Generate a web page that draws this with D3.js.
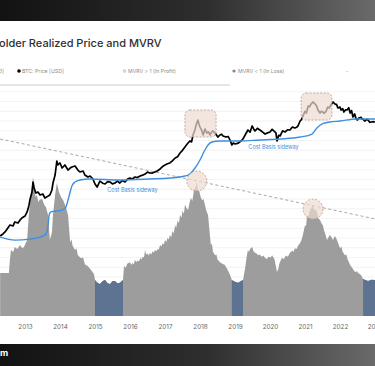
<!DOCTYPE html>
<html>
<head>
<meta charset="utf-8">
<script src="https://cdn.jsdelivr.net/npm/d3@7"></script>
<style>
  html, body { margin: 0; padding: 0; background: #fff; overflow: hidden; }
  svg { display: block; font-family: Inter, 'Liberation Sans', sans-serif; }
</style>
</head>
<body>
<div class="canvas"></div>
<script>
// x-axis years
const years = [2013, 2014, 2015, 2016, 2017, 2018, 2019, 2020, 2021, 2022, 2023]

// BTC price [USD], [decimal year, price]
const btcPrice = [
  [2012.29, 5.1], [2012.37, 5.9], [2012.43, 6.8], [2012.51, 9.0], [2012.57, 11.1], [2012.66, 10.4],
  [2012.71, 13.8], [2012.80, 12.8], [2012.86, 15.8], [2012.91, 18.3], [2013.0, 21], [2013.06, 28],
  [2013.11, 43], [2013.14, 65], [2013.20, 115], [2013.23, 234], [2013.26, 153], [2013.31, 107],
  [2013.37, 115], [2013.43, 93], [2013.51, 100], [2013.57, 75], [2013.66, 86], [2013.71, 93],
  [2013.77, 133], [2013.80, 218], [2013.86, 384], [2013.91, 1030], [2013.94, 780], [2014.0, 900],
  [2014.06, 630], [2014.14, 780], [2014.23, 547], [2014.29, 630], [2014.34, 680], [2014.43, 725],
  [2014.51, 547], [2014.57, 475], [2014.66, 510], [2014.71, 384], [2014.80, 333], [2014.86, 357],
  [2014.94, 290], [2015.0, 203], [2015.06, 164], [2015.14, 250], [2015.22, 215], [2015.29, 203],
  [2015.36, 240], [2015.43, 234], [2015.50, 205], [2015.57, 218], [2015.64, 250], [2015.71, 218],
  [2015.78, 260], [2015.86, 234], [2015.93, 290], [2016.0, 310], [2016.07, 290], [2016.14, 333],
  [2016.21, 320], [2016.29, 357], [2016.36, 380], [2016.43, 410], [2016.50, 470], [2016.57, 443],
  [2016.64, 440], [2016.71, 475], [2016.79, 520], [2016.86, 590], [2016.93, 700], [2017.0, 780],
  [2017.07, 850], [2017.14, 900], [2017.21, 1050], [2017.29, 1280], [2017.36, 1400], [2017.43, 1830],
  [2017.50, 2200], [2017.57, 2800], [2017.64, 3500], [2017.71, 4290], [2017.76, 4000], [2017.80, 6540],
  [2017.85, 9000], [2017.89, 13300], [2017.94, 18900], [2017.97, 14000], [2018.0, 11500], [2018.05, 9000],
  [2018.09, 6540], [2018.14, 10000], [2018.20, 7500], [2018.24, 8200], [2018.29, 6540], [2018.33, 8000],
  [2018.37, 8700], [2018.43, 7500], [2018.47, 6500], [2018.51, 5650], [2018.57, 6540], [2018.62, 6900],
  [2018.66, 6100], [2018.74, 5650], [2018.80, 5900], [2018.83, 5290], [2018.88, 4000], [2018.91, 3220],
  [2018.95, 3700], [2019.0, 3450], [2019.07, 3600], [2019.14, 3980], [2019.22, 4800], [2019.29, 6540],
  [2019.37, 9310], [2019.43, 8000], [2019.49, 12400], [2019.53, 10200], [2019.57, 8700], [2019.64, 10500],
  [2019.71, 9310], [2019.78, 8200], [2019.86, 7000], [2019.93, 7600], [2020.0, 8090], [2020.06, 9800],
  [2020.11, 8700], [2020.17, 7600], [2020.20, 4290], [2020.25, 6400], [2020.29, 6100], [2020.36, 8800],
  [2020.43, 8090], [2020.50, 9400], [2020.57, 9310], [2020.64, 11500], [2020.71, 10700], [2020.76, 11300],
  [2020.80, 12400], [2020.86, 17600], [2020.90, 19500], [2020.94, 25000], [2021.0, 35000], [2021.04, 31000],
  [2021.09, 50800], [2021.13, 48000], [2021.17, 58000], [2021.23, 67800], [2021.29, 58000], [2021.33, 52000],
  [2021.37, 38400], [2021.43, 31000], [2021.47, 35000], [2021.51, 33300], [2021.55, 30500], [2021.60, 35000],
  [2021.65, 47000], [2021.69, 44300], [2021.74, 54700], [2021.80, 67800], [2021.86, 58000], [2021.90, 57000],
  [2021.94, 44300], [2022.0, 47000], [2022.03, 38400], [2022.08, 42000], [2022.11, 33300], [2022.16, 39000],
  [2022.20, 38400], [2022.25, 45000], [2022.29, 31000], [2022.33, 37000], [2022.37, 23400], [2022.42, 29000],
  [2022.46, 20300], [2022.50, 19000], [2022.54, 21800], [2022.60, 23000], [2022.63, 20300], [2022.67, 19500],
  [2022.71, 17600], [2022.76, 19800], [2022.80, 18900], [2022.85, 16000], [2022.89, 16400], [2022.95, 16900],
  [2023.0, 16400]
]

// Holder realized price [USD]
const realizedPrice = [
  [2012.29, 4.7], [2012.71, 3.8], [2013.14, 4.1], [2013.43, 4.7], [2013.60, 5.9], [2013.66, 11.1],
  [2013.69, 22.6], [2013.74, 28], [2013.89, 30], [2014.06, 32], [2014.17, 40], [2014.23, 65],
  [2014.29, 115], [2014.34, 177], [2014.43, 234], [2014.57, 270], [2014.86, 290], [2015.71, 270],
  [2016.57, 290], [2017.14, 310], [2017.57, 357], [2017.71, 410], [2017.86, 630], [2018.0, 1110],
  [2018.14, 2260], [2018.23, 3220], [2018.34, 3980], [2018.57, 4290], [2019.14, 4290], [2019.71, 4590],
  [2020.29, 4930], [2020.86, 5650], [2021.20, 7000], [2021.34, 10700], [2021.49, 14300], [2021.71, 16400],
  [2022.0, 17600], [2022.46, 20300], [2023.0, 20300]
]

// MVRV ratio
const mvrv = [
  [2012.29, 1.10], [2012.54, 1.10], [2012.57, 1.45], [2012.60, 1.69], [2012.66, 1.64], [2012.71, 1.77],
  [2012.78, 1.72], [2012.86, 1.82], [2012.92, 1.74], [2012.97, 1.77], [2013.06, 1.95], [2013.11, 2.59],
  [2013.17, 3.10], [2013.23, 3.56], [2013.26, 3.36], [2013.30, 3.05], [2013.34, 3.10], [2013.38, 2.92],
  [2013.42, 2.98], [2013.49, 3.0], [2013.55, 2.85], [2013.60, 2.79], [2013.66, 2.59], [2013.71, 1.95],
  [2013.77, 2.15], [2013.80, 2.59], [2013.86, 3.10], [2013.91, 3.41], [2013.97, 3.18], [2014.03, 3.05],
  [2014.09, 2.97], [2014.17, 2.79], [2014.23, 2.59], [2014.29, 1.90], [2014.33, 1.96], [2014.36, 1.80],
  [2014.43, 1.69], [2014.47, 1.74], [2014.51, 1.56], [2014.60, 1.48], [2014.66, 1.50], [2014.71, 1.33],
  [2014.79, 1.28], [2014.86, 1.21], [2014.97, 1.08], [2015.0, 0.92], [2015.07, 0.85], [2015.14, 0.82],
  [2015.22, 0.90], [2015.29, 0.92], [2015.36, 0.84], [2015.43, 0.82], [2015.50, 0.90], [2015.57, 0.90],
  [2015.64, 0.84], [2015.71, 0.85], [2015.80, 0.92], [2015.83, 1.28], [2015.88, 1.24], [2015.92, 1.34],
  [2016.0, 1.38], [2016.04, 1.31], [2016.07, 1.36], [2016.11, 1.33], [2016.14, 1.44], [2016.18, 1.38],
  [2016.22, 1.42], [2016.26, 1.40], [2016.29, 1.49], [2016.33, 1.45], [2016.36, 1.52], [2016.40, 1.50],
  [2016.43, 1.69], [2016.46, 1.58], [2016.50, 1.60], [2016.54, 1.55], [2016.57, 1.62], [2016.61, 1.58],
  [2016.64, 1.66], [2016.68, 1.62], [2016.71, 1.69], [2016.75, 1.66], [2016.79, 1.72], [2016.82, 1.70],
  [2016.86, 1.82], [2016.90, 1.78], [2016.93, 1.86], [2016.97, 1.84], [2017.0, 1.95], [2017.04, 1.90],
  [2017.07, 2.0], [2017.11, 1.96], [2017.14, 2.08], [2017.18, 2.02], [2017.21, 2.18], [2017.25, 2.12],
  [2017.29, 2.33], [2017.32, 2.26], [2017.36, 2.45], [2017.40, 2.38], [2017.43, 2.59], [2017.47, 2.52],
  [2017.50, 2.70], [2017.54, 2.62], [2017.57, 2.85], [2017.62, 2.76], [2017.66, 2.72], [2017.70, 2.90],
  [2017.74, 3.03], [2017.78, 2.95], [2017.83, 3.23], [2017.88, 3.30], [2017.91, 3.44], [2017.94, 3.20],
  [2017.97, 3.23], [2018.02, 3.05], [2018.06, 2.97], [2018.10, 3.0], [2018.14, 2.85], [2018.18, 2.70],
  [2018.23, 2.59], [2018.27, 2.20], [2018.31, 1.82], [2018.34, 1.86], [2018.37, 1.65], [2018.43, 1.56],
  [2018.47, 1.58], [2018.50, 1.45], [2018.57, 1.38], [2018.64, 1.34], [2018.71, 1.31], [2018.78, 1.20],
  [2018.86, 1.05], [2018.91, 0.92], [2019.0, 0.88], [2019.09, 0.85], [2019.17, 0.90], [2019.23, 0.92],
  [2019.29, 1.23], [2019.33, 1.50], [2019.37, 1.69], [2019.40, 1.64], [2019.43, 1.72], [2019.49, 1.77],
  [2019.53, 1.66], [2019.57, 1.62], [2019.62, 1.60], [2019.66, 1.56], [2019.71, 1.58], [2019.76, 1.52],
  [2019.81, 1.55], [2019.86, 1.49], [2019.91, 1.46], [2019.96, 1.52], [2020.02, 1.50], [2020.06, 1.56],
  [2020.13, 1.45], [2020.20, 1.13], [2020.24, 1.22], [2020.27, 1.35], [2020.34, 1.49], [2020.40, 1.46],
  [2020.45, 1.55], [2020.51, 1.52], [2020.57, 1.62], [2020.64, 1.68], [2020.67, 1.64], [2020.71, 1.74],
  [2020.76, 1.72], [2020.80, 1.80], [2020.86, 1.87], [2020.90, 1.95], [2020.94, 2.08], [2021.0, 2.33],
  [2021.03, 2.30], [2021.06, 2.59], [2021.10, 2.55], [2021.14, 2.72], [2021.19, 2.78], [2021.23, 2.85],
  [2021.26, 2.70], [2021.28, 2.75], [2021.34, 2.67], [2021.38, 2.50], [2021.43, 2.46], [2021.47, 2.38],
  [2021.51, 2.33], [2021.55, 2.18], [2021.58, 2.10], [2021.63, 1.95], [2021.67, 2.02], [2021.71, 2.08],
  [2021.76, 2.02], [2021.80, 1.95], [2021.85, 2.05], [2021.89, 2.0], [2021.95, 1.86], [2022.0, 1.74],
  [2022.04, 1.78], [2022.07, 1.66], [2022.14, 1.56], [2022.18, 1.58], [2022.22, 1.45], [2022.29, 1.31],
  [2022.36, 1.22], [2022.43, 1.13], [2022.48, 1.15], [2022.52, 1.10], [2022.60, 1.05], [2022.66, 0.95],
  [2022.73, 0.92], [2022.80, 0.90], [2022.90, 0.93], [2023.0, 0.92]
]

// descending trend across MVRV peaks
const mvrvTrend = [[2012.29, 4.54], [2023.0, 2.49]]

// highlighted zones: price tops [year from, year to, low USD, high USD], MVRV tops [year, ratio]
const priceTops = [[2017.57, 2018.46, 5670, 38400], [2020.89, 2021.77, 18900, 128000]]
const mvrvTops = [[2017.91, 3.46], [2021.23, 2.74]]

// annotations [year, USD, text]
const notes = [[2016.07, 115, 'Cost Basis sideway'], [2020.10, 2425, 'Cost Basis sideway']]

const legendItems = ['D]', 'BTC: Price [USD]', 'MVRV > 1 (In Profit)', 'MVRV < 1 (In Loss)', '-']

class HolderChart {
  get dimensions() {
    return {
      width: 375,
      height: 366,
      plotBottom: 316
    }
  }

  constructor() {
    const {width, height} = this.dimensions

    this.svg = d3.select('.canvas')
      .append('svg')
      .attr('width', width)
      .attr('height', height)

    this.x = d3.scaleLinear().domain([2012.286, 2023.0]).range([0, width])
    this.y = d3.scaleLog().domain([1, 100000]).range([259, 96.5])
    this.yRatio = d3.scaleLinear().domain([0, 4]).range([this.dimensions.plotBottom, 160])
  }

  draw() {
    this.drawFrame()
    this.drawGrid()
    this.drawMvrv()
    this.drawLines()
    this.drawHighlights()
    this.drawAxis()
    this.drawLegend()
  }

  drawFrame() {
    const {width, height} = this.dimensions
    const defs = this.svg.append('defs')
    const grad = defs.append('linearGradient').attr('id', 'band')
    grad.append('stop').attr('offset', '0%').attr('stop-color', '#121212')
    grad.append('stop').attr('offset', '55%').attr('stop-color', '#2e2e2e')
    grad.append('stop').attr('offset', '100%').attr('stop-color', '#6a6a6a')

    this.svg.append('rect')
      .attr('width', width).attr('height', 21)
      .attr('fill', 'url(#band)')
    this.svg.append('rect')
      .attr('y', 344).attr('width', width).attr('height', height - 344)
      .attr('fill', 'url(#band)')

    this.svg.append('text')
      .attr('x', 0).attr('y', 356)
      .attr('fill', '#fff')
      .attr('font-size', 9)
      .attr('font-weight', 700)
      .text('m')

    this.svg.append('text')
      .attr('x', -1).attr('y', 47)
      .attr('fill', '#2f2f2f')
      .attr('font-size', 11)
      .attr('font-weight', 500)
      .text('older Realized Price and MVRV')
  }

  drawGrid() {
    const ticks = d3.range(0.25, 5.9, 0.25)
    this.svg.append('g')
      .selectAll('line')
      .data(ticks)
      .join('line')
      .attr('x1', 0).attr('x2', this.dimensions.width)
      .attr('y1', d => this.yRatio(d)).attr('y2', d => this.yRatio(d))
      .attr('stroke', '#f0f0f0')
      .attr('stroke-width', 0.8)
  }

  drawMvrv() {
    const area = d3.area()
      .x(d => this.x(d[0]))
      .y0(this.yRatio(0))
      .y1(d => this.yRatio(d[1]))

    this.svg.append('path')
      .attr('d', area(mvrv))
      .attr('fill', '#9d9d9d')

    this.svg.append('path')
      .attr('d', area.defined(d => d[1] < 1)(mvrv))
      .attr('fill', '#5e7391')

    const trend = d3.line()
      .x(d => this.x(d[0]))
      .y(d => this.yRatio(d[1]))

    this.svg.append('path')
      .attr('d', trend(mvrvTrend))
      .attr('fill', 'none')
      .attr('stroke', '#a8a8a8')
      .attr('stroke-width', 1)
      .attr('stroke-dasharray', '3,2.5')
  }

  drawLines() {
    const line = d3.line()
      .x(d => this.x(d[0]))
      .y(d => this.y(d[1]))

    this.svg.append('path')
      .attr('d', line(btcPrice))
      .attr('fill', 'none')
      .attr('stroke', '#000')
      .attr('stroke-width', 1.7)
      .attr('stroke-linejoin', 'round')

    this.svg.append('path')
      .attr('d', line.curve(d3.curveMonotoneX)(realizedPrice))
      .attr('fill', 'none')
      .attr('stroke', '#3f8fe0')
      .attr('stroke-width', 1.4)

    this.svg.append('g')
      .selectAll('text')
      .data(notes)
      .join('text')
      .attr('x', d => this.x(d[0]))
      .attr('y', d => this.y(d[1]))
      .attr('text-anchor', 'middle')
      .attr('fill', '#3f8fe0')
      .attr('font-size', 5.5)
      .text(d => d[2])
  }

  drawHighlights() {
    const g = this.svg.append('g')
      .attr('fill', '#eedbd2')
      .attr('fill-opacity', 0.7)
      .attr('stroke', '#b8998a')
      .attr('stroke-width', 0.8)
      .attr('stroke-dasharray', '2,1.5')

    g.selectAll('rect')
      .data(priceTops)
      .join('rect')
      .attr('x', d => this.x(d[0]))
      .attr('y', d => this.y(d[3]))
      .attr('width', d => this.x(d[1]) - this.x(d[0]))
      .attr('height', d => this.y(d[2]) - this.y(d[3]))
      .attr('rx', 5)

    g.selectAll('circle')
      .data(mvrvTops)
      .join('circle')
      .attr('cx', d => this.x(d[0]))
      .attr('cy', d => this.yRatio(d[1]))
      .attr('r', 10)
  }

  drawAxis() {
    const axis = d3.axisBottom(this.x)
      .tickValues(years)
      .tickFormat(d3.format('d'))
      .tickSize(0)
      .tickPadding(9)

    const g = this.svg.append('g')
      .attr('transform', `translate(0, ${this.dimensions.plotBottom})`)
      .call(axis)

    g.select('.domain').remove()
    g.selectAll('text')
      .attr('fill', '#666')
      .attr('font-size', 6.3)
      .attr('font-family', 'Inter, sans-serif')
  }

  drawLegend() {
    const xs = [4, 22, 128, 238, 346]
    const g = this.svg.append('g')
      .attr('font-size', 5.2)
      .attr('fill', '#8a8a8a')

    g.selectAll('text')
      .data(legendItems)
      .join('text')
      .attr('x', (d, i) => xs[i])
      .attr('y', 73)
      .attr('text-anchor', (d, i) => i === 0 ? 'end' : 'start')
      .text(d => d)

    g.append('circle').attr('cx', 19).attr('cy', 71).attr('r', 1.8).attr('fill', '#000')
    g.append('circle').attr('cx', 124.5).attr('cy', 71).attr('r', 1.5)
      .attr('fill', '#ddd').attr('stroke', '#bbb').attr('stroke-width', 0.5)
    g.append('circle').attr('cx', 234).attr('cy', 71).attr('r', 1.6).attr('fill', '#888')

    this.svg.append('line')
      .attr('x1', 0).attr('x2', 230)
      .attr('y1', 85).attr('y2', 85)
      .attr('stroke', '#dcdcdc')
      .attr('stroke-width', 1.5)
  }
}

const chart = new HolderChart
chart.draw()
</script>
</body>
</html>
